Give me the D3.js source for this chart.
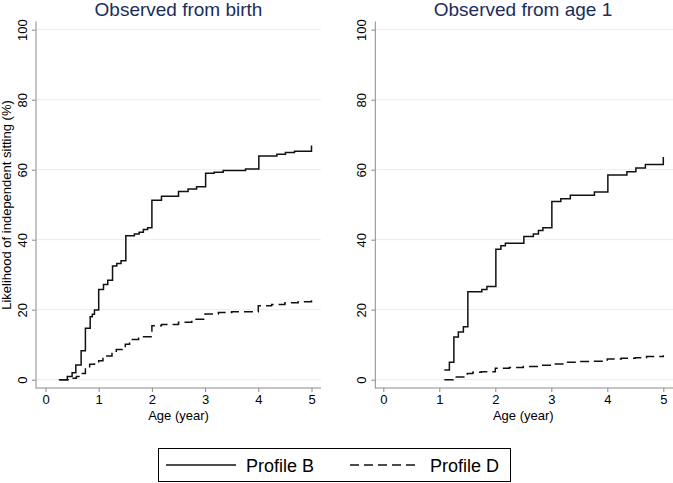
<!DOCTYPE html>
<meta charset="utf-8">
<style>
body { margin: 0; background: #fff; }
svg { font-family: "Liberation Sans", Arial, sans-serif; }
.grid line { stroke: #ececec; stroke-width: 1; }
.axis text { font-size: 13px; fill: #000; }
.axis line, .axisline { stroke: #8a8a8a; stroke-width: 1; }
.title { font-size: 19px; fill: #1c2d5c; }
.curve { fill: none; stroke: #111; stroke-width: 1.5; }
.dashed { stroke-dasharray: 9,5; }
</style>
<svg width="673" height="483"></svg>
<script src="https://d3js.org/d3.v7.min.js"></script>
<script>

// ages (years) and cumulative likelihood (%)
var birthB_age = [0.25, 0.41, 0.5, 0.57, 0.67, 0.75, 0.84, 0.88, 0.92, 1.0, 1.09, 1.17, 1.26, 1.34, 1.42, 1.51, 1.67, 1.76, 1.84, 1.92, 2.0, 2.18, 2.5, 2.68, 2.84, 3.01, 3.17, 3.34, 3.76, 4.01, 4.35, 4.51, 4.68, 5.0];
var birthB_val = [0, 0.9, 2.0, 4.2, 8.3, 14.7, 18.0, 18.7, 19.9, 25.8, 27.2, 28.4, 32.5, 33.2, 34.0, 41.1, 41.6, 42.1, 42.9, 43.4, 51.3, 52.4, 53.8, 54.5, 55.1, 59.0, 59.3, 59.8, 60.2, 63.9, 64.4, 64.9, 65.3, 66.9];

var birthD_age = [0.27, 0.5, 0.58, 0.67, 0.75, 0.83, 0.92, 1.0, 1.08, 1.25, 1.33, 1.5, 1.58, 1.75, 2.0, 2.18, 2.5, 2.75, 3.0, 3.25, 3.5, 4.0, 4.25, 4.5, 4.75, 5.0];
var birthD_val = [0, 0.4, 0.9, 1.8, 3.7, 4.4, 4.9, 5.4, 6.8, 7.5, 8.6, 10.1, 11.5, 12.3, 15.4, 15.8, 16.4, 17.3, 18.8, 19.2, 19.4, 21.1, 21.5, 22.0, 22.3, 22.7];

var age1B_age = [1.09, 1.18, 1.26, 1.34, 1.43, 1.51, 1.76, 1.85, 2.01, 2.1, 2.18, 2.51, 2.68, 2.77, 2.85, 3.01, 3.17, 3.34, 3.77, 4.01, 4.35, 4.51, 4.68, 5.0];
var age1B_val = [2.8, 5.0, 12.2, 13.6, 15.1, 25.1, 25.8, 26.6, 37.3, 38.3, 39.0, 40.9, 41.6, 42.6, 43.4, 50.9, 51.7, 52.7, 53.6, 58.5, 59.4, 60.5, 61.5, 63.6];

var age1D_age = [1.09, 1.25, 1.5, 1.6, 1.75, 2.0, 2.25, 2.5, 2.75, 3.0, 3.25, 3.5, 3.75, 4.0, 4.25, 4.5, 4.7, 5.0];
var age1D_val = [0, 0.8, 1.8, 2.1, 2.3, 3.3, 3.5, 3.8, 4.1, 4.5, 5.0, 5.2, 5.3, 5.9, 6.1, 6.3, 6.6, 7.0];

var xTicks = [0, 1, 2, 3, 4, 5];
var yTicks = [0, 20, 40, 60, 80, 100];
var titles = ["Observed from birth", "Observed from age 1"];
var legendLabels = ["Profile B", "Profile D"];

var svg = d3.select("svg");

function zip(a, b) { return a.map(function(d, i) { return [d, b[i]]; }); }

function drawPanel(p) {
  var x = d3.scaleLinear().domain([0, 5]).range([p.x0, p.x5]);
  var y = d3.scaleLinear().domain([0, 100]).range([379.7, 29.7]);
  var g = svg.append("g");

  g.append("g").attr("class", "grid")
    .selectAll("line").data(yTicks).enter().append("line")
      .attr("x1", p.left + 1).attr("x2", p.right)
      .attr("y1", function(d) { return y(d); })
      .attr("y2", function(d) { return y(d); });

  var xa = g.append("g").attr("class", "axis")
    .attr("transform", "translate(0,388)")
    .call(d3.axisBottom(x).tickValues(xTicks).tickSize(4).tickPadding(3).tickFormat(d3.format("d")));
  xa.select(".domain").remove();

  var ya = g.append("g").attr("class", "axis")
    .attr("transform", "translate(" + p.left + ",0)")
    .call(d3.axisLeft(y).tickValues(yTicks).tickSize(4).tickFormat(d3.format("d")));
  ya.select(".domain").remove();
  ya.selectAll("text")
    .attr("x", 0).attr("y", 0).attr("dy", "0.35em")
    .attr("text-anchor", "middle")
    .attr("transform", "translate(-14,0) rotate(-90)");

  g.append("line").attr("class", "axisline")
    .attr("x1", p.left).attr("x2", p.left).attr("y1", 21.5).attr("y2", 388.5);
  g.append("line").attr("class", "axisline")
    .attr("x1", p.left).attr("x2", p.right).attr("y1", 388).attr("y2", 388);

  g.append("text").attr("class", "title")
    .attr("x", p.titleX).attr("y", 16).attr("text-anchor", "middle")
    .text(p.title);

  g.append("text")
    .attr("x", (p.x0 + p.x5) / 2).attr("y", 420)
    .attr("text-anchor", "middle").style("font-size", "13px")
    .text("Age (year)");

  var line = d3.line()
    .x(function(d) { return x(d[0]); })
    .y(function(d) { return y(d[1]); })
    .curve(d3.curveStepAfter);

  g.append("path").attr("class", "curve dashed").attr("d", line(p.d));
  g.append("path").attr("class", "curve").attr("d", line(p.b));
}

drawPanel({ left: 36, right: 321, x0: 45.5, x5: 311.5, titleX: 178.5, title: titles[0],
  b: zip(birthB_age, birthB_val), d: zip(birthD_age, birthD_val) });
drawPanel({ left: 375.3, right: 673, x0: 383.3, x5: 663.3, titleX: 523, title: titles[1],
  b: zip(age1B_age, age1B_val), d: zip(age1D_age, age1D_val) });

svg.append("text")
  .attr("transform", "translate(11,205) rotate(-90)")
  .attr("text-anchor", "middle").style("font-size", "13px")
  .text("Likelihood of independent sitting (%)");

// legend
var lg = svg.append("g");
lg.append("rect").attr("x", 158.5).attr("y", 448.5).attr("width", 352).attr("height", 33)
  .attr("fill", "#fff").attr("stroke", "#000").attr("stroke-width", 1);
var items = [{ x1: 166, x2: 236, tx: 246, dash: false }, { x1: 350, x2: 418, tx: 430, dash: true }];
items.forEach(function(it, i) {
  lg.append("line").attr("class", it.dash ? "curve dashed" : "curve")
    .attr("x1", it.x1).attr("x2", it.x2).attr("y1", 465).attr("y2", 465);
  lg.append("text").attr("x", it.tx).attr("y", 471.5).style("font-size", "18px")
    .text(legendLabels[i]);
});

</script>
